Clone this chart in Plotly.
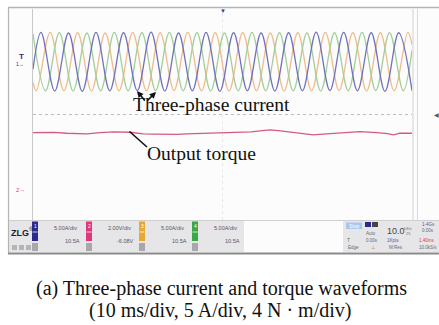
import plotly.graph_objects as go

W, H = 439, 325

# ---- scope settings -------------------------------------------------------
CUR_SCALE = 5.0     # A per division
TQ_SCALE = 4.0      # N·m per division
CUR_OFFSET = 2.0    # division position of current zero
TQ_OFFSET = -2.86   # division position of torque zero

# ---- phase currents: extremes of each phase (time in ms, current in A) -----
ia_t = [0, 2.11, 5.74, 9.37, 13.00, 16.63, 20.26, 23.89, 27.52, 31.15, 34.78,
        38.41, 42.04, 45.67, 49.30, 52.93, 56.56, 60.19, 63.82, 67.45, 71.08,
        74.71, 78.34, 81.97, 85.60, 89.23, 92.86, 96.49, 100]
ia_v = [-1.4, 5.55, -5.55, 5.45, -5.6, 5.55, -5.5, 5.5, -5.45, 5.6, -5.55,
        5.45, -5.5, 5.55, -5.6, 5.5, -5.5, 5.45, -5.55, 5.5, -5.5, 5.6,
        -5.45, 5.55, -5.5, 5.5, -5.6, 5.5, -5.5]

ib_t = [0, 0.90, 4.53, 8.16, 11.79, 15.42, 19.05, 22.68, 26.31, 29.94, 33.57,
        37.20, 40.83, 44.46, 48.09, 51.72, 55.35, 58.98, 62.61, 66.24, 69.87,
        73.50, 77.13, 80.76, 84.39, 88.02, 91.65, 95.28, 98.91, 100]
ib_v = [-3.9, -5.5, 5.55, -5.5, 5.5, -5.55, 5.45, -5.5, 5.55, -5.5, 5.5,
        -5.45, 5.55, -5.5, 5.5, -5.55, 5.5, -5.5, 5.45, -5.55, 5.5, -5.5,
        5.55, -5.45, 5.5, -5.55, 5.5, -5.5, 5.55, 3.2]

ic_t = [0, 3.32, 6.95, 10.58, 14.21, 17.84, 21.47, 25.10, 28.73, 32.36, 35.99,
        39.62, 43.25, 46.88, 50.51, 54.14, 57.77, 61.40, 65.03, 68.66, 72.29,
        75.92, 79.55, 83.18, 86.81, 90.44, 94.07, 97.70, 100]
ic_v = [5.3, -5.5, 5.5, -5.55, 5.45, -5.5, 5.55, -5.5, 5.5, -5.45, 5.55,
        -5.5, 5.5, -5.55, 5.45, -5.5, 5.55, -5.5, 5.5, -5.5, 5.45, -5.55,
        5.5, -5.5, 5.55, -5.45, 5.5, -5.5, 2.2]

# ---- output torque (time in ms, torque in N·m) -----------------------------
tq_t = [0, 2.7, 5.5, 8.9, 11.5, 14.2, 17.7, 21.2, 25.6, 29.1, 32.0, 35.3,
        38.0, 40.5, 45.8, 49.3, 54.6, 57.5, 59.9, 62.5, 64.8, 66.9, 71.3,
        73.9, 77.5, 80.0, 82.8, 86.3, 90.7, 93.5, 95.1, 96.8, 100]
tq_v = [8.69, 8.75, 8.72, 8.60, 8.55, 8.49, 8.69, 8.80, 8.75, 8.49, 8.45,
        8.39, 8.44, 8.49, 8.60, 8.69, 8.69, 8.82, 8.95, 9.10, 8.98, 8.84,
        8.60, 8.34, 8.49, 8.62, 8.69, 8.84, 8.69, 8.55, 8.34, 8.60, 8.60]

# ---- channel read-outs ----------------------------------------------------
ch_colors = ["#2b2b8c", "#e0377c", "#e9a92e", "#3aa844"]
ch_scale = ["5.00A/div", "2.00V/div", "5.00A/div", "5.00A/div"]
ch_offset = ["10.5A", "-6.08V", "10.5A", "10.5A"]

C_BLUE, C_ORANGE, C_GREEN, C_TQ = "#7072bb", "#f1bb8b", "#a2cf98", "#d65a7e"


def cur_div(vals):
    return [CUR_OFFSET + v / CUR_SCALE for v in vals]


def tq_div(vals):
    return [TQ_OFFSET + v / TQ_SCALE for v in vals]


fig = go.Figure()
for t, v, c in [(ib_t, ib_v, C_ORANGE), (ic_t, ic_v, C_GREEN), (ia_t, ia_v, C_BLUE)]:
    fig.add_trace(go.Scatter(x=t, y=cur_div(v), mode="lines", hoverinfo="skip",
                             line=dict(color=c, width=1.3, shape="spline", smoothing=1.0)))
fig.add_trace(go.Scatter(x=tq_t, y=tq_div(tq_v), mode="lines", hoverinfo="skip",
                         line=dict(color=C_TQ, width=1.3)))


def px(x):
    return x / W


def py(y):
    return 1 - y / H


shapes = []
annos = []


def rect(x0, y0, x1, y1, fill, line=None, lw=0):
    shapes.append(dict(type="rect", xref="paper", yref="paper", x0=px(x0), x1=px(x1),
                       y0=py(y1), y1=py(y0), fillcolor=fill,
                       line=dict(color=line or fill, width=lw), layer="below"))


def seg(x0, y0, x1, y1, color, width=1, dash="solid", layer="above"):
    shapes.append(dict(type="line", xref="paper", yref="paper", x0=px(x0), x1=px(x1),
                       y0=py(y0), y1=py(y1), line=dict(color=color, width=width, dash=dash),
                       layer=layer))


def txt(x, y, s, size=6, color="#555", family="Liberation Sans", xanchor="center", bold=False):
    if bold:
        s = "<b>" + s + "</b>"
    annos.append(dict(x=px(x), y=py(y), xref="paper", yref="paper", text=s, showarrow=False,
                      xanchor=xanchor, yanchor="middle",
                      font=dict(size=size, color=color, family=family)))


# screen frame and panels
rect(8, 7, 440, 253, "#fcfcfc")
rect(9, 220.5, 244, 252, "#e6e6e8")
rect(343, 220.5, 439, 252, "#e6e6e8")
seg(8, 7.5, 439, 7.5, "#b4b4b4", 1.5)
seg(8.5, 7, 8.5, 254, "#b4b4b4", 1.2)
seg(8, 253.5, 439, 253.5, "#8a8a8a", 2)
seg(32.5, 9, 32.5, 220, "#c9c9c9", 1)
seg(413, 9, 413, 220, "#d2d2d2", 1)
seg(417.5, 9, 417.5, 220, "#dadada", 1)
seg(9, 220.5, 439, 220.5, "#cfcfcf", 1)

# dotted centre lines of the graticule
shapes.append(dict(type="line", xref="x", yref="y", x0=0, x1=100, y0=0, y1=0,
                   line=dict(color="#bcbcbc", width=1, dash="dot"), layer="below"))
shapes.append(dict(type="line", xref="x", yref="y", x0=50, x1=50, y0=-4, y1=4,
                   line=dict(color="#e8e8e8", width=1, dash="dot"), layer="below"))

# channel markers on the left strip
txt(21, 57, "T", 8, "#2b2b6c", bold=True)
txt(20, 64, "1→", 5, "#2b2b8c")
txt(20, 190, "2→", 6, "#e0377c")
txt(222.5, 11, "▼", 6, "#3a3a9a")
txt(436, 115, "◀", 6, "#555555")

# label for current waveforms, with arrows to the curves
txt(211, 105, "Three-phase current", 19.5, "#111", family="Liberation Serif")
for hx, hy, ax, ay in [(137, 91, 9, 11), (156, 92, -10, 10)]:
    annos.append(dict(x=px(hx), y=py(hy), xref="paper", yref="paper", text="",
                      showarrow=True, ax=ax, ay=ay, arrowhead=2, arrowsize=0.8,
                      arrowwidth=1.6, arrowcolor="#111"))
txt(201, 153, "Output torque", 19.5, "#111", family="Liberation Serif")
seg(129.5, 131.5, 147, 147, "#111", 1.6)

# bottom read-out panel
txt(20, 233, "ZLG", 9, "#222", bold=True)
txt(31, 229, "®", 5, "#222")
for x in [12, 19, 26]:
    rect(x, 245, x + 5, 250, "#b5b5b8")
for i, bx in enumerate([32, 86, 139, 192]):
    rect(bx, 221.5, bx + 6, 241, ch_colors[i])
    seg(bx + 0.5, 232, bx + 5.5, 232, "#ffffff", 0.8)
    txt(bx + 3, 226, str(i + 1), 5, "#ffffff")
    rect(bx, 243, bx + 6, 251, "#a8a8ac")
    txt(bx + 33, 228, ch_scale[i], 5.5, "#556")
    txt(bx + 50, 241, ch_offset[i], 5.5, "#556", xanchor="right")

# acquisition status panel
rect(346, 222.5, 362, 229, "#a9c7ea")
txt(354, 226, "Stop", 5, "#ffffff")
rect(365, 222, 371, 227, "#2b2b8c")
rect(372, 222, 378, 227, "#444448")
txt(371, 233, "Auto", 4.5, "#667")
txt(396, 231, "10.0", 9, "#444")
txt(408, 228, "kS/s", 4, "#667")
txt(408, 233, "25", 4, "#667")
txt(428, 224, "1-4Gs", 4.5, "#4a5aa8")
txt(428, 230, "0.00s", 4.5, "#667")
txt(348, 240, "T", 5, "#667")
txt(372, 240, "0.00s", 4.5, "#667")
txt(393, 240, "1Kpts", 4.5, "#4a5aa8")
txt(427, 240, "1.40ms", 4.5, "#d84040")
txt(353, 247, "Edge", 4.5, "#667")
txt(373, 247, "⊥", 5, "#667")
txt(396, 247, "M:Res", 4.5, "#667")
txt(428, 247, "10.0kS/s", 4.5, "#667")

# caption
txt(221, 288, "(a) Three-phase current and torque waveforms", 20, "#111",
    family="Liberation Serif")
txt(220, 310, "(10 ms/div, 5 A/div, 4 N · m/div)", 20, "#111", family="Liberation Serif")

fig.update_layout(
    width=W, height=H, margin=dict(l=0, r=0, t=0, b=0),
    paper_bgcolor="#ffffff", plot_bgcolor="rgba(0,0,0,0)", showlegend=False,
    xaxis=dict(domain=[33 / W, 412 / W], range=[0, 100], visible=False, fixedrange=True),
    yaxis=dict(domain=[1 - 220 / H, 1 - 9 / H], range=[-4, 4], visible=False, fixedrange=True),
    shapes=shapes, annotations=annos,
)

fig.write_html("out.html")
